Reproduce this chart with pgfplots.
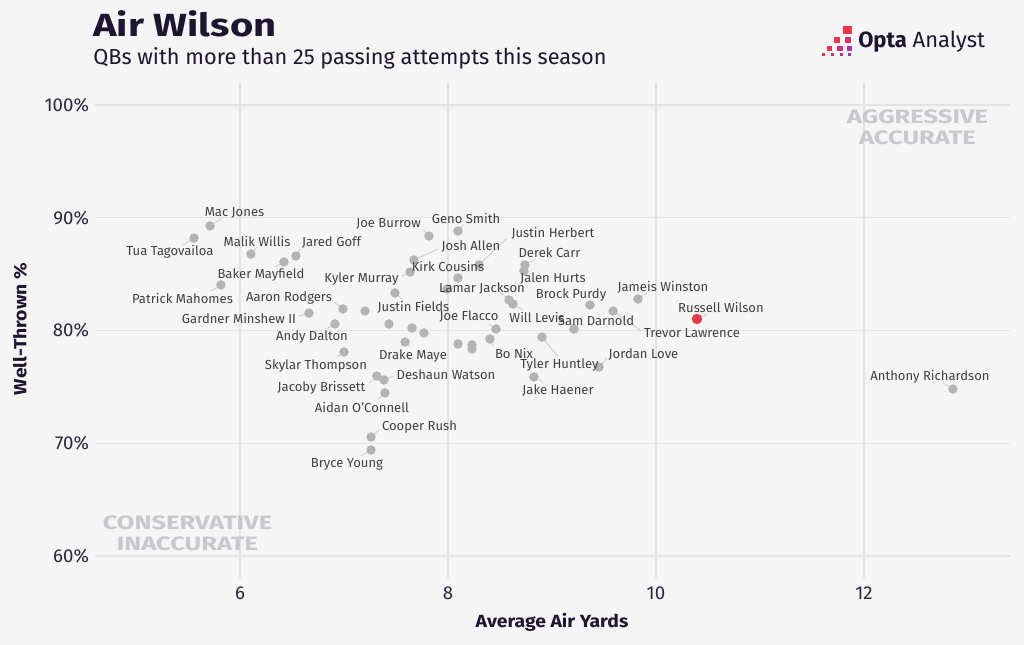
\documentclass[border=0pt]{standalone}
\usepackage{pgfplots}
\pgfplotsset{compat=1.18}
\usepackage{fontspec}
\setmainfont{Fira Sans}
\newfontfamily\widefont[FakeStretch=1.25]{Fira Sans}
\newfontfamily\quadfont[FakeStretch=1.32]{Fira Sans}
\newfontfamily\axfont[FakeStretch=1.1]{Fira Sans}
\definecolor{bg}{HTML}{F5F5F5}
\definecolor{gridc}{HTML}{E3E3E3}
\definecolor{ink}{HTML}{1E1630}
\definecolor{tickc}{HTML}{2B2540}
\definecolor{lblc}{HTML}{404040}
\definecolor{leadc}{HTML}{D2D2D2}
\definecolor{dotc}{HTML}{B4B4B4}
\definecolor{redc}{HTML}{E23D4A}
\definecolor{quadc}{HTML}{C8C8CD}
\definecolor{lg1}{HTML}{E8364F}
\definecolor{lg2}{HTML}{DA3163}
\definecolor{lg3}{HTML}{C8307E}
\definecolor{lg4}{HTML}{B030B0}
\begin{document}
\begin{tikzpicture}
\fill[bg] (0,0) rectangle (768pt,483.75pt);
\useasboundingbox (0,0) rectangle (768pt,483.75pt);
% leader lines (pixel coordinates)
\begin{scope}[x=0.75pt,y=-0.75pt,yshift=483.75pt,line width=0.75pt,leadc]
\draw (210,226)--(221,219);
\draw (194,238)--(183,245);
\draw (251,254)--(257,247);
\draw (296,256)--(300,249);
\draw (284,262)--(275,267);
\draw (221,285)--(211,291);
\draw (343,309)--(334,302);
\draw (309,313)--(299,316);
\draw (335,324)--(326,329);
\draw (344,352)--(337,357);
\draw (377,376)--(369,383);
\draw (384,380)--(394,376);
\draw (385,393)--(378,399);
\draw (371,437)--(379,430);
\draw (371,450)--(361,456);
\draw (429,236)--(423,229);
\draw (458,231)--(463,225);
\draw (414,260)--(438,249);
\draw (479,265)--(507,238);
\draw (525,265)--(535,259);
\draw (410,272)--(402,276);
\draw (395,293)--(403,300);
\draw (509,300)--(500,292);
\draw (513,304)--(523,310);
\draw (496,329)--(489,324);
\draw (405,342)--(410,347);
\draw (490,339)--(493,346);
\draw (542,337)--(558,357);
\draw (613,311)--(640,330);
\draw (638,299)--(647,293);
\draw (697,319)--(707,314);
\draw (599,367)--(607,358);
\draw (534,377)--(543,382);
\draw (953,389)--(943,383);
\end{scope}
\begin{axis}[
  at={(71.25pt,50.25pt)}, anchor=south west,
  scale only axis, width=686.25pt, height=371.25pt,
  xmin=4.606, xmax=13.404, ymin=58.05, ymax=101.95,
  axis line style={draw=none},
  major tick length=0pt,
  grid=major,
  grid style={gridc, line width=1.1pt},
  xtick={6,8,10,12},
  ytick={60,70,80,90,100},
  yticklabel={\pgfmathprintnumber{\tick}\%},
  /pgf/number format/assume math mode=true,
  ticklabel style={font=\fontsize{14}{16}\selectfont, text=tickc},
  xticklabel style={yshift=-3pt},
  yticklabel style={xshift=-1pt},
  clip=false,
]
\addplot[only marks, color=dotc, mark=*, mark size=3.4pt, mark options={fill=dotc, draw=dotc, line width=0.2pt}] table {
x y
5.712 89.27
5.558 88.20
6.106 86.78
6.538 86.61
6.423 86.08
5.817 84.04
6.990 81.91
6.663 81.55
6.913 80.58
7.000 78.09
7.202 81.73
7.433 80.58
7.654 80.22
7.769 79.78
7.587 78.98
7.317 75.96
7.385 75.61
7.394 74.46
7.260 70.55
7.260 69.40
7.490 83.33
7.635 85.19
7.673 86.25
7.817 88.38
8.096 88.82
8.298 85.81
8.096 84.66
7.990 83.68
8.740 85.81
8.731 85.28
8.587 82.71
8.625 82.35
8.462 80.13
8.096 78.80
8.231 78.71
8.231 78.36
8.404 79.25
8.904 79.42
8.827 75.88
9.212 80.13
9.365 82.26
9.587 81.73
9.827 82.79
9.452 76.76
12.856 74.81
};
\addplot[only marks, color=redc, mark=*, mark size=3.8pt, mark options={fill=redc, draw=redc, line width=0.2pt}] coordinates {(10.394,81.02)};
\end{axis}
\begin{scope}[x=0.75pt,y=-0.75pt,yshift=483.75pt]
\tikzset{lbl/.style={inner sep=0pt, text=lblc, font=\fontsize{9.8}{11}\selectfont}}
\node[lbl] at (234.5,213) {Mac Jones};
\node[lbl] at (170,252) {Tua Tagovailoa};
\node[lbl] at (257,241) {Malik Willis};
\node[lbl] at (331.5,243) {Jared Goff};
\node[lbl] at (261,275) {Baker Mayfield};
\node[lbl] at (182.5,298) {Patrick Mahomes};
\node[lbl] at (289,298) {Aaron Rodgers};
\node[lbl] at (239,318) {Gardner Minshew II};
\node[lbl] at (312,337) {Andy Dalton};
\node[lbl] at (316,366) {Skylar Thompson};
\node[lbl] at (321.5,388) {Jacoby Brissett};
\node[lbl] at (446,375) {Deshaun Watson};
\node[lbl] at (362,407) {Aidan O'Connell};
\node[lbl] at (419.5,427) {Cooper Rush};
\node[lbl] at (347,464) {Bryce Young};
\node[lbl] at (388.5,224) {Joe Burrow};
\node[lbl] at (466,218) {Geno Smith};
\node[lbl] at (471,247) {Josh Allen};
\node[lbl] at (553,233) {Justin Herbert};
\node[lbl] at (549.5,253) {Derek Carr};
\node[lbl] at (448,266) {Kirk Cousins};
\node[lbl] at (361.5,279) {Kyler Murray};
\node[lbl] at (413.5,307) {Justin Fields};
\node[lbl] at (482,289) {Lamar Jackson};
\node[lbl] at (553,279) {Jalen Hurts};
\node[lbl] at (571,295) {Brock Purdy};
\node[lbl] at (537,317) {Will Levis};
\node[lbl] at (469,317) {Joe Flacco};
\node[lbl] at (413,356) {Drake Maye};
\node[lbl] at (514,353) {Bo Nix};
\node[lbl] at (596,321) {Sam Darnold};
\node[lbl] at (692,333) {Trevor Lawrence};
\node[lbl] at (663,287) {Jameis Winston};
\node[lbl] at (721,307) {Russell Wilson};
\node[lbl] at (559.5,365) {Tyler Huntley};
\node[lbl] at (643.5,355) {Jordan Love};
\node[lbl] at (558,391) {Jake Haener};
\node[lbl] at (930,377) {Anthony Richardson};
% quadrant notes
\node[inner sep=0pt, text=quadc, font=\quadfont\fontsize{14.5}{16}\selectfont\bfseries, align=center] at (917.5,127.5) {AGGRESSIVE\\ACCURATE};
\node[inner sep=0pt, text=quadc, font=\quadfont\fontsize{14.5}{16}\selectfont\bfseries, align=center] at (187.5,533.5) {CONSERVATIVE\\INACCURATE};
% axis titles
\node[inner sep=0pt, text=ink, font=\axfont\fontsize{13.2}{15}\selectfont\bfseries] at (552,622) {Average Air Yards};
\node[inner sep=0pt, text=ink, font=\axfont\fontsize{13.2}{15}\selectfont\bfseries, rotate=90] at (20,329) {Well-Thrown \%};
% title and subtitle
\node[inner sep=0pt, anchor=base west, text=ink, font=\widefont\fontsize{24}{28}\selectfont\bfseries] at (93,37) {Air Wilson};
\node[inner sep=0pt, anchor=base west, text=ink, font=\fontsize{16.3}{19}\selectfont] at (93,65) {QBs with more than 25 passing attempts this season};
% logo
\fill[lg1] (843,26) rectangle (852,34);
\fill[lg1] (834,37) rectangle (840,43);
\fill[lg2] (845,37) rectangle (851,43);
\fill[lg1] (827,46) rectangle (832,51);
\fill[lg3] (837,46) rectangle (843,51);
\fill[lg4] (847,46) rectangle (852,51);
\fill[lg1] (822,53) rectangle (825,56);
\fill[lg3] (831,53) rectangle (834,56);
\fill[lg4] (840,53) rectangle (843,56);
\fill[lg4] (848,53) rectangle (851,56);
\node[inner sep=0pt, anchor=base west, text=ink, font=\fontsize{16.5}{19}\selectfont] at (858,48) {\textbf{Opta} Analyst};
\end{scope}
\end{tikzpicture}
\end{document}
